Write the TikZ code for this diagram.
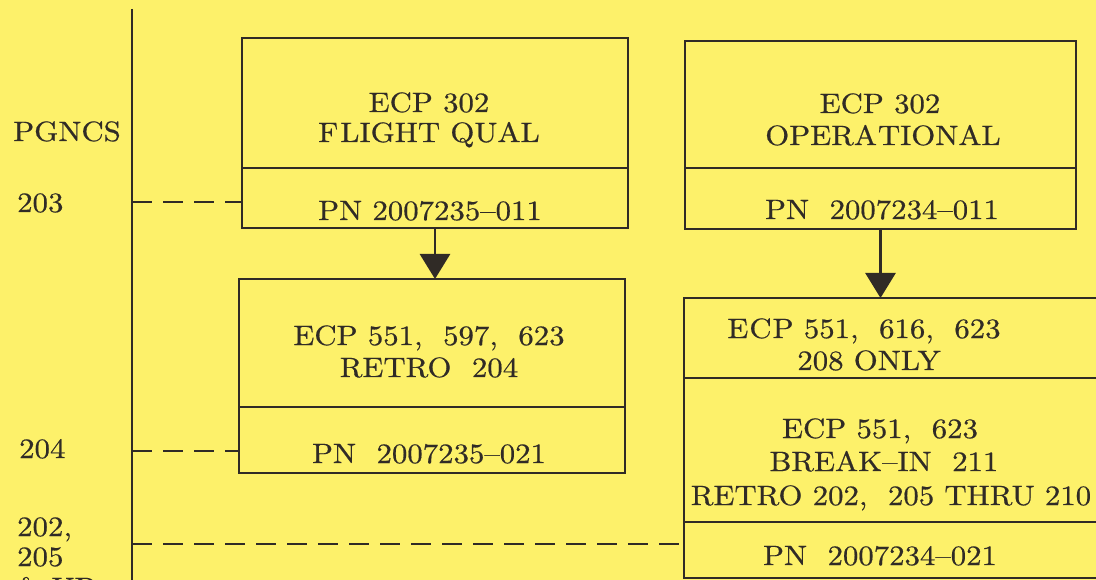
\documentclass[tikz,border=0pt]{standalone}
\usepackage{fontspec}
\setmainfont{lmroman10-regular}[Extension=.otf, FakeStretch=1.10, FakeBold=0.6]
\usetikzlibrary{arrows.meta}
\definecolor{paper}{RGB}{253,241,106}
\definecolor{ink}{RGB}{48,43,38}
\begin{document}
\begin{tikzpicture}[x=1pt,y=-1pt,
  box/.style={draw=ink, line width=2.8pt, inner sep=0pt, outer sep=0pt, rectangle},
  lbl/.style={text=ink, font=\fontsize{28}{31}\selectfont, inner sep=0pt, anchor=base},
  lblw/.style={lbl, anchor=base west},
  divider/.style={draw=ink, line width=2.8pt},
  dashline/.style={draw=ink, line width=2.8pt, dash pattern=on 20pt off 11pt},
  arr/.style={draw=ink, line width=2.8pt, -{Triangle[width=30pt,length=25pt]}}]
\fill[paper] (0,0) rectangle (1096,580);
\useasboundingbox (0,0) rectangle (1096,580);
\clip (0,0) rectangle (1096,580);

% boxes
\node[box, minimum width=386pt, minimum height=190pt] (A) at (435,133) {};
\node[box, minimum width=391pt, minimum height=188pt] (B) at (880.5,135) {};
\node[box, minimum width=386pt, minimum height=194pt] (C) at (432,376) {};
\node[box, minimum width=418pt, minimum height=280pt] (D) at (893,438) {};

% dividers
\coordinate (dA) at (0,168);
\coordinate (dB) at (0,168);
\coordinate (dC) at (0,407);
\coordinate (dD1) at (0,378);
\coordinate (dD2) at (0,522);
\draw[divider] (A.west |- dA) -- (A.east |- dA);
\draw[divider] (B.west |- dB) -- (B.east |- dB);
\draw[divider] (C.west |- dC) -- (C.east |- dC);
\draw[divider] (D.west |- dD1) -- (D.east |- dD1);
\draw[divider] (D.west |- dD2) -- (D.east |- dD2);

% arrows
\draw[arr] (A.south) -- (A.south |- C.north);
\draw[arr] (B.south) -- (B.south |- D.north);

% time axis
\coordinate (vt) at (132,9);
\coordinate (vb) at (132,592);
\draw[divider] (vt) -- (vb);
\coordinate (v1) at (132,202);
\coordinate (v2) at (132,451);
\coordinate (v3) at (132,544);
\draw[dashline] (v1) -- (v1 -| A.west);
\draw[dashline] (v2) -- (v2 -| C.west);
\draw[dashline] (v3) -- (v3 -| D.west);

% left labels
\node[lblw] (l0) at (13,141) {PGNCS};
\node[lblw] (l1) at (17,212) {203};
\node[lblw] (l2) at (19,458) {204};
\node[lblw] (l3) at (17,536) {202,};
\node[lblw] (l4) at (17,566) {205};
\node[lblw] (l5) at (17,597) {\& UP};

% box A
\node[lbl] (a1) at (429,112) {ECP 302};
\node[lbl] (a2) at (429,142) {F\kern2pt LIGHT QUAL};
\node[lbl] (a3) at (430,220) {PN 2007235–011};
% box B
\node[lbl] (b1) at (880,113) {ECP 302};
\node[lbl] (b2) at (883,145) {OPERA\kern1pt TIONAL};
\node[lbl] (b3) at (882,219) {PN \ 2007234–011};
% box C
\node[lbl] (c1) at (429,345) {ECP 551, \ 597, \ 623};
\node[lbl] (c2) at (429,377) {RETRO \ 204};
\node[lbl] (c3) at (429,463) {PN \ 2007235–021};
% box D
\node[lbl] (d1) at (864,338) {E\kern1pt C\kern1pt P 551, \ 616, \ 623};
\node[lbl] (d2) at (869,370) {208 ONLY};
\node[lbl] (d3) at (880,438) {ECP 551, \ 623};
\node[lbl] (d4) at (884,471) {BREAK–IN \ 211};
\node[lbl] (d5) at (891,505) {RETRO 202, \ 205 THRU 210};
\node[lbl] (d6) at (880,565) {PN \ 2007234–021};
\end{tikzpicture}
\end{document}
